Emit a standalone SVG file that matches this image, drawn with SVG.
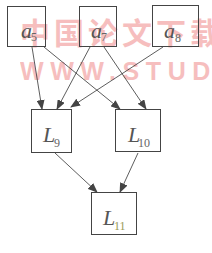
<svg xmlns="http://www.w3.org/2000/svg" width="212" height="253" viewBox="0 0 212 253">
<style>
.box{fill:none;stroke:#444;stroke-width:1}
.edge{stroke:#333;stroke-width:0.8;fill:none;marker-end:url(#ah)}
.v{font-family:"Liberation Serif",serif;font-style:italic;fill:#555}
.s{font-family:"Liberation Serif",serif;fill:#666}
.wm{font-family:"Noto Sans CJK SC",sans-serif;font-weight:bold;fill:#f08a8a;opacity:0.55}
.wm2{font-family:"Liberation Sans",sans-serif;font-weight:bold;fill:#f08a8a;opacity:0.55}
</style>
<defs>
<marker id="ah" markerWidth="10" markerHeight="8" refX="9" refY="4" orient="auto" markerUnits="userSpaceOnUse">
<path d="M0,0 L10,4 L0,8 Z" fill="#444"/>
</marker>
</defs>
<rect width="212" height="253" fill="#fff"/>
<g id="watermark">
<text class="wm" x="20" y="44" font-size="30" textLength="200" lengthAdjust="spacing">中国论文下载</text>
<text class="wm2" x="20" y="80" font-size="25" textLength="215" lengthAdjust="spacing">WWW.STUDA</text>
</g>
<g id="connectors">
<line class="edge" x1="32" y1="47" x2="42" y2="109"/>
<line class="edge" x1="44" y1="47" x2="120" y2="109"/>
<line class="edge" x1="90" y1="47" x2="57" y2="109"/>
<line class="edge" x1="104" y1="47" x2="146" y2="109"/>
<line class="edge" x1="163" y1="47" x2="71" y2="107"/>
<line class="edge" x1="55" y1="153" x2="97" y2="192"/>
<line class="edge" x1="138" y1="153" x2="120" y2="192"/>
</g>
<g id="a5">
<rect class="box" x="7.5" y="6.5" width="38" height="40"/>
<text class="v" x="21" y="38" font-size="22">a</text>
<text class="s" x="31" y="41" font-size="12">5</text>
</g>
<g id="a7">
<rect class="box" x="79.5" y="6.5" width="37" height="40"/>
<text class="v" x="91" y="38" font-size="22">a</text>
<text class="s" x="101" y="41" font-size="12">7</text>
</g>
<g id="a8">
<rect class="box" x="152.5" y="5.5" width="46" height="41"/>
<text class="v" x="164" y="38" font-size="22">a</text>
<text class="s" x="175" y="42" font-size="12">8</text>
</g>
<g id="L9">
<rect class="box" x="31.5" y="109.5" width="40" height="43"/>
<text class="v" x="43" y="142" font-size="22">L</text>
<text class="s" x="54" y="147" font-size="12">9</text>
</g>
<g id="L10">
<rect class="box" x="115.5" y="109.5" width="45" height="42"/>
<text class="v" x="128" y="142" font-size="22">L</text>
<text class="s" x="138" y="147" font-size="12">10</text>
</g>
<g id="L11">
<rect class="box" x="91.5" y="192.5" width="45" height="42"/>
<text class="v" x="103" y="225" font-size="22">L</text>
<text class="s" x="114" y="230" font-size="12" style="fill:#9a9a55">11</text>
</g>
</svg>
